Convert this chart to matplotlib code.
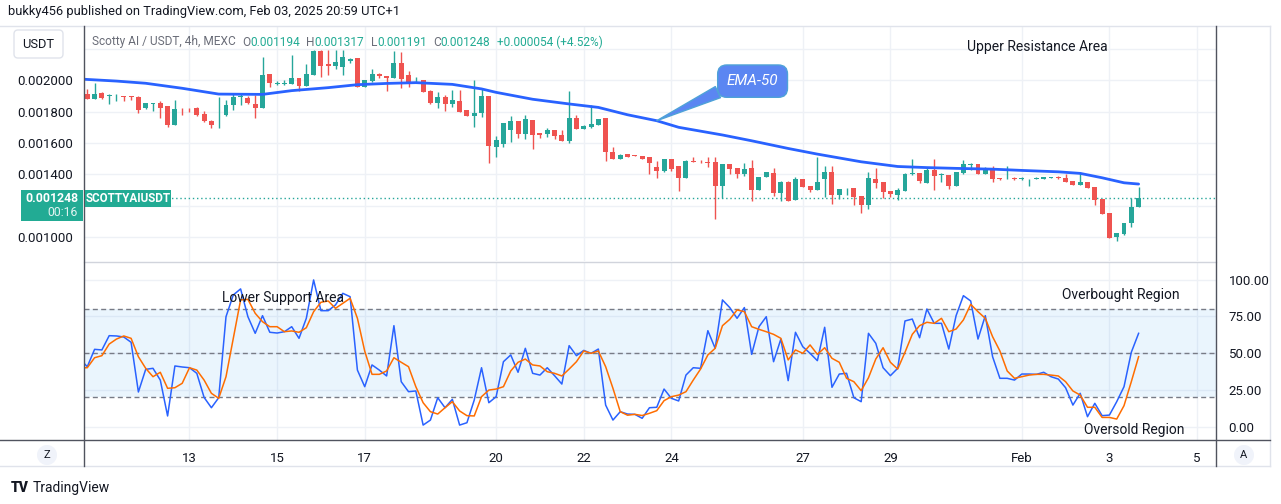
import matplotlib
matplotlib.use("Agg")
import matplotlib.pyplot as plt
from matplotlib.patches import FancyBboxPatch, Rectangle, Circle
from matplotlib.lines import Line2D
from matplotlib.transforms import Affine2D
import numpy as np
import pandas as pd

plt.rcParams['font.family'] = ['Roboto', 'DejaVu Sans']

# 4h candles, first one opens 2025-01-10 16:00; prices in millionths of USDT
t0 = pd.Timestamp('2025-01-10 16:00')
opens = [1913, 1883, 1917, 1900, 1898, 1898, 1898, 1896, 1823, 1851,
         1857, 1836, 1717, 1819, 1817, 1821, 1785, 1738, 1734, 1776,
         1842, 1891, 1885, 1849, 1823, 2040, 1979, 1979, 1979, 2015,
         1966, 2032, 2185, 2104, 2094, 2087, 2121, 2140, 1955, 1998,
         2040, 2030, 2017, 2111, 2036, 1985, 2002, 1934, 1857, 1896,
         1851, 1868, 1810, 1774, 1789, 1900, 1576, 1596, 1681, 1738,
         1659, 1747, 1661, 1655, 1683, 1649, 1615, 1757, 1691, 1702,
         1717, 1759, 1543, 1500, 1527, 1523, 1519, 1508, 1449, 1423,
         1500, 1453, 1378, 1485, 1480, 1478, 1478, 1327, 1464, 1440,
         1404, 1440, 1300, 1385, 1406, 1283, 1351, 1236, 1368, 1325,
         1300, 1368, 1415, 1270, 1310, 1313, 1262, 1206, 1368, 1351,
         1293, 1268, 1295, 1402, 1406, 1346, 1427, 1393, 1397, 1327,
         1410, 1461, 1466, 1399, 1440, 1376, 1368, 1376, 1370, 1368,
         1370, 1372, 1378, 1381, 1376, 1357, 1334, 1351, 1317, 1240,
         1151, 1002, 1019, 1087, 1194]
highs = [1942, 1981, 1928, 1911, 1911, 1898, 1898, 1900, 1853, 1855,
         1868, 1836, 1874, 1825, 1821, 1830, 1802, 1747, 1891, 1874,
         1913, 1911, 1900, 1906, 2151, 2040, 1994, 2002, 2162, 2015,
         2104, 2194, 2194, 2194, 2194, 2194, 2145, 2145, 2004, 2072,
         2049, 2030, 2187, 2181, 2060, 2019, 2002, 1938, 1925, 1906,
         1938, 1938, 1810, 2002, 1942, 1900, 1644, 1729, 1772, 1738,
         1779, 1747, 1661, 1693, 1683, 1683, 1932, 1776, 1712, 1842,
         1753, 1759, 1576, 1527, 1527, 1525, 1519, 1508, 1485, 1500,
         1500, 1453, 1491, 1508, 1491, 1512, 1512, 1464, 1464, 1440,
         1474, 1491, 1385, 1412, 1440, 1355, 1355, 1380, 1368, 1325,
         1510, 1451, 1451, 1304, 1313, 1313, 1262, 1415, 1440, 1351,
         1293, 1310, 1406, 1500, 1406, 1438, 1495, 1406, 1397, 1415,
         1491, 1470, 1466, 1446, 1453, 1378, 1451, 1385, 1385, 1372,
         1385, 1385, 1385, 1389, 1402, 1357, 1415, 1351, 1317, 1240,
         1151, 1023, 1087, 1246, 1317]
lows = [1880, 1883, 1879, 1847, 1870, 1870, 1874, 1793, 1817, 1806,
        1761, 1704, 1717, 1776, 1796, 1772, 1734, 1698, 1693, 1772,
        1810, 1842, 1847, 1757, 1823, 1955, 1968, 1972, 1975, 1934,
        1966, 2032, 2019, 2034, 2075, 2036, 2109, 1955, 1955, 1991,
        2013, 1934, 2017, 1949, 1955, 1981, 1928, 1847, 1825, 1806,
        1832, 1800, 1774, 1704, 1764, 1474, 1512, 1576, 1606, 1634,
        1627, 1563, 1634, 1636, 1627, 1610, 1602, 1691, 1691, 1695,
        1717, 1487, 1496, 1500, 1512, 1517, 1500, 1402, 1374, 1417,
        1423, 1295, 1378, 1478, 1474, 1444, 1117, 1247, 1402, 1374,
        1389, 1232, 1300, 1385, 1262, 1232, 1232, 1236, 1321, 1289,
        1300, 1257, 1209, 1240, 1266, 1206, 1155, 1181, 1315, 1247,
        1257, 1236, 1295, 1397, 1346, 1346, 1299, 1351, 1306, 1327,
        1399, 1427, 1399, 1399, 1353, 1366, 1368, 1361, 1361, 1325,
        1368, 1370, 1376, 1368, 1351, 1334, 1334, 1315, 1204, 1146,
        993, 976, 1010, 1061, 1191]
closes = [1883, 1913, 1889, 1903, 1900, 1894, 1894, 1810, 1853, 1855,
          1825, 1715, 1817, 1815, 1815, 1776, 1740, 1715, 1736, 1840,
          1891, 1900, 1853, 1823, 2034, 1981, 1983, 1983, 2015, 1966,
          2040, 2185, 2094, 2094, 2115, 2147, 2134, 1960, 2002, 2040,
          2026, 2017, 2111, 2006, 1981, 1991, 1928, 1853, 1896, 1851,
          1874, 1800, 1774, 1791, 1900, 1583, 1619, 1725, 1738, 1659,
          1753, 1653, 1651, 1683, 1644, 1615, 1757, 1691, 1708, 1721,
          1753, 1545, 1496, 1523, 1512, 1519, 1500, 1470, 1423, 1500,
          1434, 1378, 1485, 1478, 1476, 1472, 1327, 1464, 1436, 1404,
          1432, 1300, 1385, 1412, 1279, 1351, 1232, 1368, 1321, 1300,
          1351, 1415, 1268, 1304, 1313, 1257, 1206, 1378, 1347, 1289,
          1272, 1302, 1402, 1408, 1359, 1427, 1391, 1399, 1327, 1415,
          1466, 1468, 1399, 1440, 1368, 1368, 1372, 1370, 1374, 1372,
          1378, 1383, 1381, 1376, 1351, 1334, 1351, 1315, 1236, 1146,
          995, 1023, 1087, 1194, 1248]

# EMA-50 at selected candles (millionths)
ema_idx = [-1, 4, 8, 13, 18, 24, 28, 33, 37, 41, 45, 50, 54, 56, 61, 66, 70,
           74, 78, 81, 87, 91, 96, 100, 106, 111, 115, 119, 124, 128, 133,
           136, 139, 142, 144]
ema_val = [2008, 1995, 1981, 1949, 1912, 1910, 1934, 1953, 1972, 1980, 1985,
           1974, 1945, 1923, 1879, 1849, 1827, 1780, 1742, 1700, 1651, 1614,
           1565, 1529, 1480, 1450, 1443, 1438, 1433, 1425, 1416, 1406, 1378,
           1346, 1338]

# Stochastic %K and %D, starting one candle before the first visible one
stoch_k = [46.0,
           40.8, 52.6, 52.2, 61.9, 61.7, 61.0, 57.4, 23.6, 39.0, 39.7,
           31.7, 7.3, 41.3, 40.6, 40.1, 36.3, 19.9, 12.9, 19.7, 74.8,
           89.6, 93.7, 74.8, 63.5, 75.5, 64.2, 63.7, 64.6, 68.0, 60.1,
           73.7, 99.8, 78.9, 78.9, 82.8, 90.7, 88.4, 38.5, 27.2, 42.0,
           38.5, 34.5, 68.7, 30.6, 23.8, 24.3, 1.1, 4.5, 19.7, 12.9,
           18.6, 1.1, 2.7, 18.1, 40.1, 16.3, 20.4, 44.2, 48.8, 37.0,
           53.3, 36.3, 35.1, 40.1, 34.7, 29.0, 55.1, 48.3, 51.9, 49.9,
           52.8, 14.7, 4.5, 10.2, 8.6, 8.4, 5.7, 12.9, 13.2, 25.6,
           19.3, 17.5, 35.1, 40.1, 39.7, 65.3, 53.3, 86.2, 81.0, 73.7,
           81.0, 49.2, 68.0, 74.8, 44.2, 59.6, 31.3, 64.2, 54.4, 49.9,
           44.9, 67.6, 26.8, 35.8, 36.3, 19.7, 17.0, 63.5, 56.7, 40.1,
           34.7, 39.7, 71.9, 73.2, 60.5, 80.0, 70.3, 70.3, 52.8, 75.5,
           89.1, 85.5, 59.6, 75.5, 47.6, 32.9, 32.9, 31.7, 35.8, 35.8,
           35.6, 37.0, 34.0, 32.4, 26.5, 14.7, 22.7, 6.8, 15.9, 7.5,
           7.9, 17.0, 27.2, 50.6, 63.5]
stoch_d = [40.0,
           40.1, 46.9, 48.3, 56.2, 59.6, 61.7, 60.1, 47.6, 39.7, 34.0,
           37.0, 26.1, 26.5, 29.5, 40.1, 38.5, 31.7, 22.7, 19.3, 34.0,
           60.1, 86.2, 86.6, 77.1, 71.4, 68.0, 68.0, 64.6, 65.1, 64.2,
           67.3, 78.2, 84.6, 85.5, 80.5, 83.9, 87.3, 73.7, 51.4, 35.6,
           35.6, 37.9, 46.9, 43.8, 40.8, 27.2, 16.3, 10.2, 8.6, 12.9,
           17.0, 10.7, 7.5, 7.3, 20.4, 24.9, 25.6, 27.2, 37.9, 43.8,
           46.0, 42.0, 41.3, 37.4, 36.3, 34.5, 39.2, 44.2, 51.5, 49.9,
           51.5, 40.8, 26.1, 10.2, 7.8, 8.4, 7.6, 9.1, 10.9, 17.7,
           20.4, 21.5, 23.8, 31.7, 39.2, 48.8, 53.3, 68.7, 73.0, 79.4,
           78.2, 68.0, 66.2, 64.6, 62.8, 60.1, 45.4, 52.2, 49.9, 55.6,
           49.2, 53.7, 46.5, 43.8, 32.9, 30.6, 24.5, 33.3, 46.0, 53.7,
           43.8, 39.2, 50.6, 62.8, 68.7, 71.0, 70.3, 73.7, 64.6, 66.4,
           72.6, 83.2, 78.2, 73.7, 61.2, 51.5, 37.9, 32.9, 34.0, 35.1,
           35.6, 35.6, 35.1, 34.5, 30.6, 24.3, 21.5, 13.2, 13.2, 6.3,
           6.3, 5.2, 14.3, 30.6, 47.6]

tick_dates = ['2025-01-13', '2025-01-15', '2025-01-17', '2025-01-20',
              '2025-01-22', '2025-01-24', '2025-01-27', '2025-01-29',
              '2025-02-01', '2025-02-03', '2025-02-05']
tick_labels = ['13', '15', '17', '20', '22', '24', '27', '29', 'Feb', '3', '5']
price_ticks = [0.0010, 0.0012, 0.0014, 0.0016, 0.0018, 0.0020, 0.0022]
osc_ticks = [0, 25, 50, 75, 100]

o = np.array(opens) * 1e-6
h = np.array(highs) * 1e-6
l = np.array(lows) * 1e-6
c = np.array(closes) * 1e-6
idx = np.arange(len(c))
tick_pos = [(pd.Timestamp(d) - t0) / pd.Timedelta('4h') for d in tick_dates]

W, H = 1281, 504
fig = plt.figure(figsize=(W / 100, H / 100), dpi=100)
fig.patch.set_facecolor('white')
pix = Affine2D().scale(1 / W, -1 / H).translate(0, 1) + fig.transFigure

GREEN, RED = '#26A69A', '#EF5350'
TEXT = '#131722'
GRID = '#EEF1F6'

ax = fig.add_axes([84 / W, 1 - 261 / H, 1132 / W, 234 / H])
ax2 = fig.add_axes([84 / W, 1 - 440 / H, 1132 / W, 178 / H])

for a in (ax, ax2):
    a.set_xlim(-0.45, 154.6)
    for s in a.spines.values():
        s.set_visible(False)
    a.set_xticks(tick_pos)
    a.grid(True, color=GRID, lw=1)
    a.set_axisbelow(True)
    a.tick_params(length=0)

# price pane; labels hidden where the last-price tag or the USDT button sits
ax.set_ylim(847e-6, 2340e-6)
ax.set_yticks(price_ticks)
ax.set_yticklabels(['' if (abs(v - c[-1]) < 8e-5 or v > 0.0021) else '%.6f' % v
                    for v in price_ticks])
ax.tick_params(axis='y', labelsize=9.5, labelcolor=TEXT, pad=8)
ax.set_xticklabels([])

col = np.where(c >= o, GREEN, RED)
ax.vlines(idx, l, h, colors=col, lw=1, zorder=3)
ax.bar(idx, np.maximum(np.abs(c - o), 2e-6), bottom=np.minimum(o, c),
       width=0.68, color=col, lw=0, zorder=4)

ema_x = np.array(ema_idx)
ema_y = np.array(ema_val) * 1e-6
ax.plot(ema_x, ema_y, color='#2962FF', lw=2, zorder=5, solid_capstyle='round')
ax.axhline(c[-1], color=GREEN, ls=(0, (1, 2)), lw=1, zorder=2)

tip = ema_y[ema_idx.index(78)]
ax.annotate('EMA-50', xy=(78, tip), xytext=(69, 28.5), textcoords='offset points',
            ha='center', va='center', color='white', fontsize=11, fontstyle='italic',
            zorder=6,
            bbox=dict(boxstyle='round,pad=0.6,rounding_size=0.6', fc='#5B86F2',
                      ec='#4EA2D8', lw=1),
            arrowprops=dict(arrowstyle='wedge,tail_width=0.8,shrink_factor=0.5',
                            fc='#5B86F2', ec='#4EA2D8', lw=1, relpos=(0.05, 0.1),
                            shrinkA=0, shrinkB=0))

ax.text(130.1, 2212e-6, 'Upper Resistance Area', ha='center', va='center',
        fontsize=10, color=TEXT)

# oscillator pane
ax2.set_ylim(-9.05, 112)
ax2.set_yticks(osc_ticks)
ax2.set_yticklabels(['%.2f' % v for v in osc_ticks])
ax2.yaxis.tick_right()
ax2.tick_params(axis='y', labelsize=9.5, labelcolor=TEXT, pad=9)
ax2.set_xticklabels(tick_labels)
ax2.tick_params(axis='x', labelsize=9.5, labelcolor=TEXT, pad=9)

ax2.axhspan(20, 80, color='#2196F3', alpha=0.09, lw=0)
for v in (80, 50, 20):
    ax2.axhline(v, color='#787B86', ls=(0, (3.6, 2.4)), lw=1)
sx = np.arange(-1, len(c))
ax2.plot(sx, stoch_k, color='#2962FF', lw=1.1)
ax2.plot(sx, stoch_d, color='#FF6D00', lw=1.1)

ax2.text(26.8, 87.6, 'Lower Support Area', ha='center', va='center', fontsize=10, color=TEXT)
ax2.text(141.6, 89.6, 'Overbought Region', ha='center', va='center', fontsize=10, color=TEXT)
ax2.text(143.4, -2.2, 'Oversold Region', ha='center', va='center', fontsize=10, color=TEXT)

# frame lines
def line(x0, y0, x1, y1, color, lw=1):
    fig.add_artist(Line2D([x0, x1], [y0, y1], transform=pix, color=color, lw=lw))

line(0, 26, 1270, 26, '#E0E3EB')
line(0, 466, 1270, 466, '#E0E3EB')
line(1270, 26, 1270, 466, '#E0E3EB')
line(84, 261.5, 1216, 261.5, '#D1D4DC')
line(0, 440, 1270, 440, '#50535E')
line(84, 26, 84, 466, '#50535E')
line(1216, 26, 1216, 466, '#50535E')

# header
fig.text(8, 11, 'bukky456 published on TradingView.com, Feb 03, 2025 20:59 UTC+1',
         transform=pix, va='center', ha='left', fontsize=9.3, color=TEXT)

fig.add_artist(FancyBboxPatch((14, 30), 49, 28, boxstyle='round,pad=0,rounding_size=4',
                              transform=pix, fc='white', ec='#E0E3EB', lw=1))
fig.text(38.5, 44, 'USDT', transform=pix, ha='center', va='center', fontsize=9.3, color=TEXT)

gray, teal = '#6A6D78', '#22AB94'
pct = (c[-1] - c[-2]) / c[-2] * 100
parts = [('Scotty AI / USDT, 4h, MEXC', gray, 0),
         ('O', gray, 4.5), ('%.6f' % o[-1], teal, 0),
         ('H', gray, 4.5), ('%.6f' % h[-1], teal, 0),
         ('L', gray, 4.5), ('%.6f' % l[-1], teal, 0),
         ('C', gray, 4.5), ('%.6f' % c[-1], teal, 0),
         ('%+.6f (%+.2f%%)' % (c[-1] - c[-2], pct), teal, 4.5)]
prev = None
for txt, colr, gap in parts:
    if prev is None:
        prev = fig.text(92, 42, txt, transform=pix, ha='left', va='center',
                        fontsize=8.6, color=colr)
    else:
        prev = ax.annotate(txt, xy=(1, 0.5), xycoords=prev, xytext=(gap, 0),
                           textcoords='offset points', ha='left', va='center',
                           fontsize=8.6, color=colr, annotation_clip=False)

# last price labels
fig.add_artist(Rectangle((21, 190), 62, 31, transform=pix, fc=teal, ec='none', zorder=5))
fig.text(78, 198.5, '%.6f' % c[-1], transform=pix, ha='right', va='center',
         fontsize=8.8, color='white', fontweight='bold', zorder=6)
fig.text(78, 212.5, '00:16', transform=pix, ha='right', va='center',
         fontsize=8.8, color='#E3F4F1', zorder=6)
fig.add_artist(Rectangle((85, 190), 86, 17, transform=pix, fc=teal, ec='none', zorder=5))
fig.text(128, 198.5, 'SCOTTYAIUSDT', transform=pix, ha='center', va='center',
         fontsize=8.4, color='white', fontweight='bold', zorder=6)

# axis buttons
for bx, lab in ((47, 'Z'), (1244, 'A')):
    fig.add_artist(Circle((bx, 455), 10, transform=pix, fc='#F0F3FA', ec='none'))
    fig.text(bx, 455, lab, transform=pix, ha='center', va='center', fontsize=8, color=TEXT)

# footer
fig.text(20, 488, 'TV', transform=pix, ha='center', va='center', fontsize=10,
         fontweight='black', color=TEXT)
fig.text(33, 488, 'TradingView', transform=pix, ha='left', va='center',
         fontsize=10, color=TEXT)

fig.savefig('out.png', dpi=100, facecolor='white')
